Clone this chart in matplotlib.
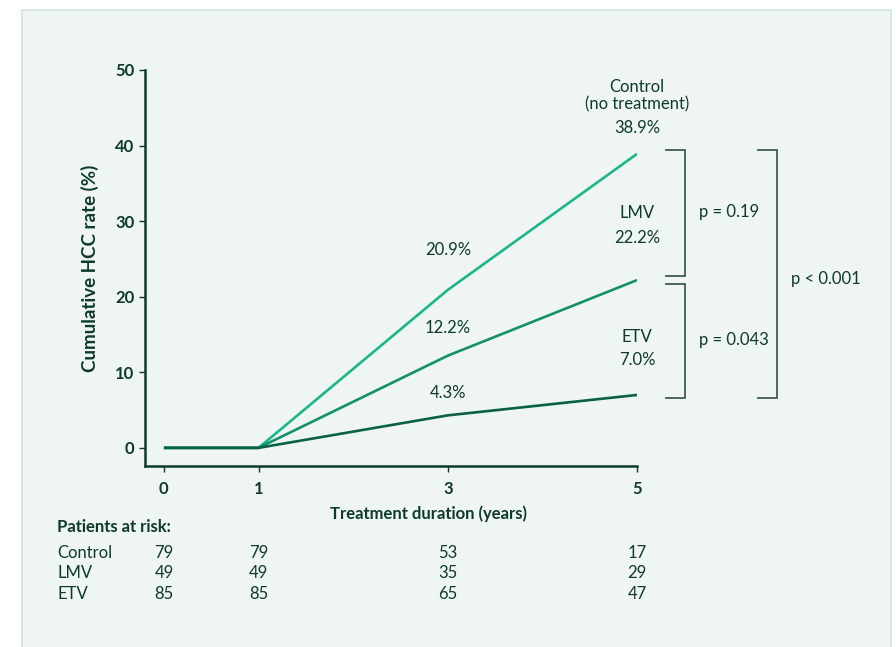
import matplotlib.pyplot as plt
import matplotlib.patches as patches
import matplotlib.transforms as mtransforms

plt.rcParams['font.family'] = ['Lato', 'DejaVu Sans']

# data
years = [0, 1, 3, 5]
control = [0, 0, 20.9, 38.9]
lmv = [0, 0, 12.2, 22.2]
etv = [0, 0, 4.3, 7.0]
groups = ["Control", "LMV", "ETV"]
at_risk = {
    "Control": [79, 79, 53, 17],
    "LMV": [49, 49, 35, 29],
    "ETV": [85, 85, 65, 47],
}

dark = "#0d3a2b"
c_control = "#1db58b"
c_lmv = "#14916b"
c_etv = "#0b6048"
br_col = "#3d5c52"

fig = plt.figure(figsize=(8.96, 6.47), dpi=100)
fig.patch.set_facecolor("white")

# light panel behind everything
panel = patches.Rectangle((22 / 896, -0.01), (891 - 22) / 896, 1 - 10 / 647 + 0.01,
                          transform=fig.transFigure, facecolor="#eef5f3",
                          edgecolor="#cfe5de", linewidth=1.2, zorder=-10)
fig.patches.append(panel)

ax = fig.add_axes([145 / 896, 1 - 466 / 647, (637 - 145) / 896, (466 - 70) / 647])
ax.set_facecolor("none")
ax.set_zorder(2)

ax.plot(years, control, color=c_control, lw=1.9, solid_capstyle="butt")
ax.plot(years, lmv, color=c_lmv, lw=1.9, solid_capstyle="butt")
ax.plot(years, etv, color=c_etv, lw=1.9, solid_capstyle="butt")

ax.set_xlim(-0.2, 5)
ax.set_ylim(-2.4, 50)
ax.set_xticks(years)
ax.set_yticks([0, 10, 20, 30, 40, 50])
for s in ["top", "right"]:
    ax.spines[s].set_visible(False)
for s in ["left", "bottom"]:
    ax.spines[s].set_color(dark)
    ax.spines[s].set_linewidth(1.8)
ax.tick_params(colors=dark, width=1.0, length=4.5, labelsize=12)
ax.tick_params(axis="x", pad=6.5)
ax.tick_params(axis="y", pad=3)
for lab in ax.get_xticklabels() + ax.get_yticklabels():
    lab.set_fontweight("bold")

ax.set_ylabel("Cumulative HCC rate (%)", fontsize=13.5, fontweight="bold", color=dark, labelpad=12)
ax.set_xlabel("Treatment duration (years)", fontsize=12, fontweight="bold", color=dark)
ax.xaxis.set_label_coords(0.577, -0.099)

# value labels
tk = dict(ha="center", va="center", fontsize=12, color=dark)
ax.text(years[2], control[2] + 5.3, f"{control[2]:.1f}%", **tk)
ax.text(years[2], lmv[2] + 3.7, f"{lmv[2]:.1f}%", **tk)
ax.text(years[2], etv[2] + 3.0, f"{etv[2]:.1f}%", **tk)
ax.text(years[3], control[3] + 7.7, "Control\n(no treatment)", linespacing=1.1, **tk)
ax.text(years[3], control[3] + 3.4, f"{control[3]:.1f}%", **tk)
ax.text(years[3], lmv[3] + 8.9, "LMV", **tk)
ax.text(years[3], lmv[3] + 5.6, f"{lmv[3]:.1f}%", **tk)
ax.text(years[3], etv[3] + 7.7, "ETV", **tk)
ax.text(years[3], etv[3] + 4.6, f"{etv[3]:.1f}%", **tk)


def bracket(x0, x1, y0, y1):
    ax.plot([x0, x1, x1, x0], [y0, y0, y1, y1], color=br_col, lw=1.3,
            clip_on=False, solid_joinstyle="miter")


bracket(5.31, 5.51, 39.4, 22.75)
bracket(5.31, 5.51, 21.7, 6.6)
bracket(6.28, 6.48, 39.4, 6.6)
pk = dict(ha="left", va="center", fontsize=12, color=dark)
ax.text(5.66, 31.2, "p = 0.19", **pk)
ax.text(5.66, 14.3, "p = 0.043", **pk)
ax.text(6.63, 22.4, "p < 0.001", **pk)

# patients at risk table
trans = mtransforms.blended_transform_factory(ax.transData, fig.transFigure)
fig.text(57 / 896, 1 - 527 / 647, "Patients at risk:", fontsize=12, fontweight="bold",
         color=dark, va="center")
row_y = [553, 573, 594]
for g, yy in zip(groups, row_y):
    fig.text(57 / 896, 1 - yy / 647, g, fontsize=12, color=dark, va="center")
    for x, n in zip(years, at_risk[g]):
        ax.text(x, 1 - yy / 647, str(n), transform=trans, ha="center", va="center",
                fontsize=12, color=dark, clip_on=False)

fig.savefig("out.png", dpi=100)
